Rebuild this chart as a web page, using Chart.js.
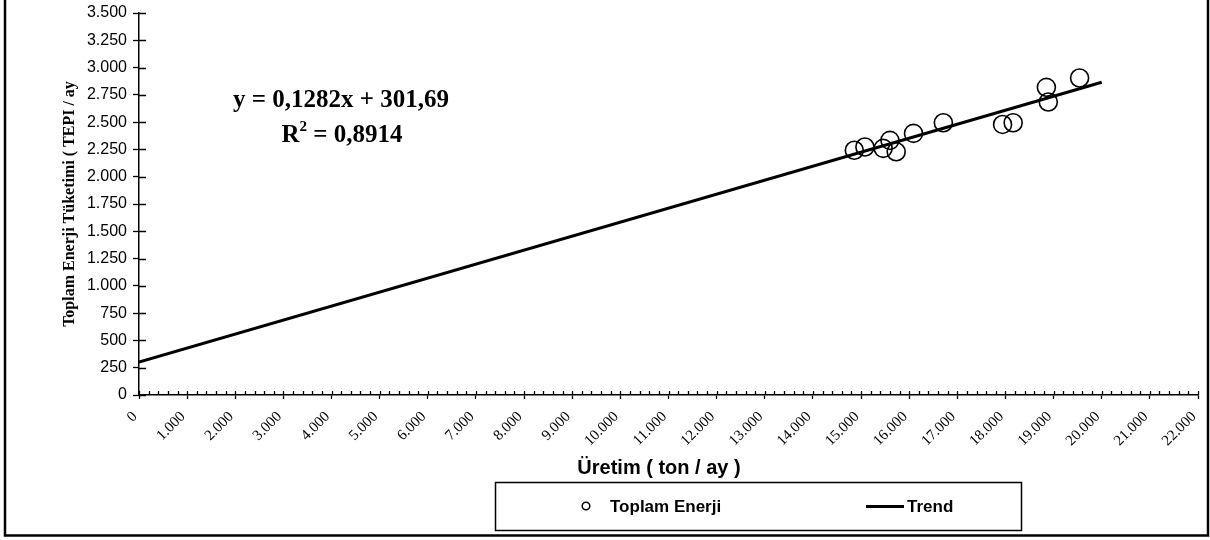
<!DOCTYPE html>
<html>
<head>
<meta charset="utf-8">
<script src="https://cdn.jsdelivr.net/npm/chart.js@4/dist/chart.umd.min.js"></script>
<style>
  html, body { margin: 0; padding: 0; background: #ffffff; }
  canvas { display: block; }
</style>
</head>
<body>
<canvas id="energyChart" width="1210" height="540"></canvas>
<script>
// Monthly production (ton / ay) and total energy use (TEPI / ay)
const productionX = [14860, 15080, 15460, 15600, 15730, 16090, 16710, 17940, 18160, 18850, 18890, 19540];
const energyY     = [2242, 2272, 2260, 2333, 2229, 2397, 2494, 2479, 2494, 2819, 2685, 2904];

// Trend line end points
const trendX = [0, 20000];
const trendY = [302, 2866];

const equationText = 'y = 0,1282x + 301,69';
const r2Value = ' = 0,8914';

const xTitle = 'Üretim ( ton / ay )';
const yTitle = 'Toplam Enerji Tüketimi ( TEPI / ay';

// Turkish style thousands separator: 1.000
function formatNumber(v) {
    return String(v).replace(/\B(?=(\d{3})+(?!\d))/g, '.');
}

const SERIF = '"Liberation Serif", "Times New Roman", serif';
const SANS = '"Liberation Sans", Arial, sans-serif';

const extrasPlugin = {
    id: 'extras',
    afterDraw(chart) {
        const ctx = chart.ctx;
        const xs = chart.scales.x;
        const ys = chart.scales.y;
        const area = chart.chartArea;

        ctx.save();
        ctx.strokeStyle = '#000';
        ctx.lineWidth = 1.3;

        // minor + inner halves of x ticks
        ctx.beginPath();
        for (let v = 0; v <= 22000; v += 200) {
            const px = Math.round(xs.getPixelForValue(v)) + 0.5;
            ctx.moveTo(px, area.bottom);
            ctx.lineTo(px, area.bottom - 4);
        }
        // inner halves of y ticks
        for (let v = 0; v <= 3500; v += 250) {
            const py = Math.round(ys.getPixelForValue(v)) + 0.5;
            ctx.moveTo(area.left, py);
            ctx.lineTo(area.left + 7, py);
        }
        ctx.stroke();

        // regression equation
        ctx.fillStyle = '#000';
        ctx.textAlign = 'center';
        ctx.textBaseline = 'middle';
        ctx.font = 'bold 25px ' + SERIF;
        ctx.fillText(equationText, 341, 101);

        const rW = ctx.measureText('R').width;
        const restW = ctx.measureText(r2Value).width;
        ctx.font = 'bold 15px ' + SERIF;
        const supW = ctx.measureText('2').width;
        const total = rW + supW + restW;
        const sx = 342 - total / 2;
        ctx.textAlign = 'left';
        ctx.font = 'bold 25px ' + SERIF;
        ctx.fillText('R', sx, 136);
        ctx.font = 'bold 15px ' + SERIF;
        ctx.fillText('2', sx + rW, 127);
        ctx.font = 'bold 25px ' + SERIF;
        ctx.fillText(r2Value, sx + rW + supW, 136);

        // x axis title (slightly left of centre, as in the original)
        ctx.textAlign = 'center';
        ctx.font = 'bold 20px ' + SANS;
        ctx.fillText(xTitle, 659, 468);

        // legend box
        const sets = chart.data.datasets;
        ctx.lineWidth = 1.5;
        ctx.strokeRect(495.5, 482.5, 526, 48);
        ctx.textAlign = 'left';
        ctx.font = 'bold 17px ' + SANS;

        ctx.beginPath();
        ctx.arc(586, 506, 3.8, 0, Math.PI * 2);
        ctx.stroke();
        ctx.fillText(sets[0].label, 610, 507);

        ctx.beginPath();
        ctx.lineWidth = 3;
        ctx.moveTo(866, 506.5);
        ctx.lineTo(904, 506.5);
        ctx.stroke();
        ctx.fillText(sets[1].label, 907, 507);

        // outer frame (left, right, bottom)
        ctx.lineWidth = 2.5;
        ctx.beginPath();
        ctx.moveTo(5, 0);
        ctx.lineTo(5, 535.5);
        ctx.lineTo(1208, 535.5);
        ctx.lineTo(1208, 0);
        ctx.stroke();
        ctx.restore();
    }
};

const ctx = document.getElementById('energyChart').getContext('2d');

new Chart(ctx, {
    type: 'scatter',
    data: {
        datasets: [
            {
                label: 'Toplam Enerji',
                data: productionX.map((x, i) => ({ x: x, y: energyY[i] })),
                borderColor: '#000',
                backgroundColor: 'rgba(0,0,0,0)',
                pointRadius: 9,
                pointBorderWidth: 1.6,
                showLine: false,
                order: 2
            },
            {
                type: 'line',
                label: 'Trend',
                data: trendX.map((x, i) => ({ x: x, y: trendY[i] })),
                borderColor: '#000',
                borderWidth: 3,
                pointRadius: 0,
                fill: false,
                order: 1
            }
        ]
    },
    options: {
        responsive: false,
        animation: false,
        layout: {
            padding: { left: 60, top: 13, right: 12, bottom: 63 }
        },
        plugins: {
            legend: { display: false },
            tooltip: { enabled: false }
        },
        scales: {
            x: {
                type: 'linear',
                min: 0,
                max: 22000,
                afterFit(scale) {
                    scale.height = 82;
                    scale.paddingLeft = 0;
                    scale.paddingRight = 0;
                },
                border: { display: true, color: '#000', width: 1.5 },
                grid: {
                    drawOnChartArea: false,
                    drawTicks: true,
                    tickLength: 4,
                    color: '#000',
                    tickWidth: 1.3
                },
                ticks: {
                    stepSize: 1000,
                    autoSkip: false,
                    minRotation: 45,
                    maxRotation: 45,
                    padding: 9,
                    labelOffset: -4,
                    color: '#000',
                    font: { family: SERIF, size: 15 },
                    callback: v => formatNumber(v)
                },
                title: { display: false }
            },
            y: {
                min: 0,
                max: 3500,
                afterFit(scale) {
                    scale.width = 79;
                    scale.paddingTop = 0;
                    scale.paddingBottom = 0;
                },
                border: { display: true, color: '#000', width: 1.5 },
                grid: {
                    drawOnChartArea: false,
                    drawTicks: true,
                    tickLength: 6,
                    color: '#000',
                    tickWidth: 1.3
                },
                ticks: {
                    stepSize: 250,
                    padding: 6,
                    color: '#000',
                    font: { family: SANS, size: 16 },
                    callback: v => formatNumber(v)
                },
                title: {
                    display: true,
                    text: yTitle,
                    color: '#000',
                    padding: 0,
                    font: { family: SERIF, size: 16, weight: 'bold' }
                }
            }
        }
    },
    plugins: [extrasPlugin]
});
</script>
</body>
</html>
